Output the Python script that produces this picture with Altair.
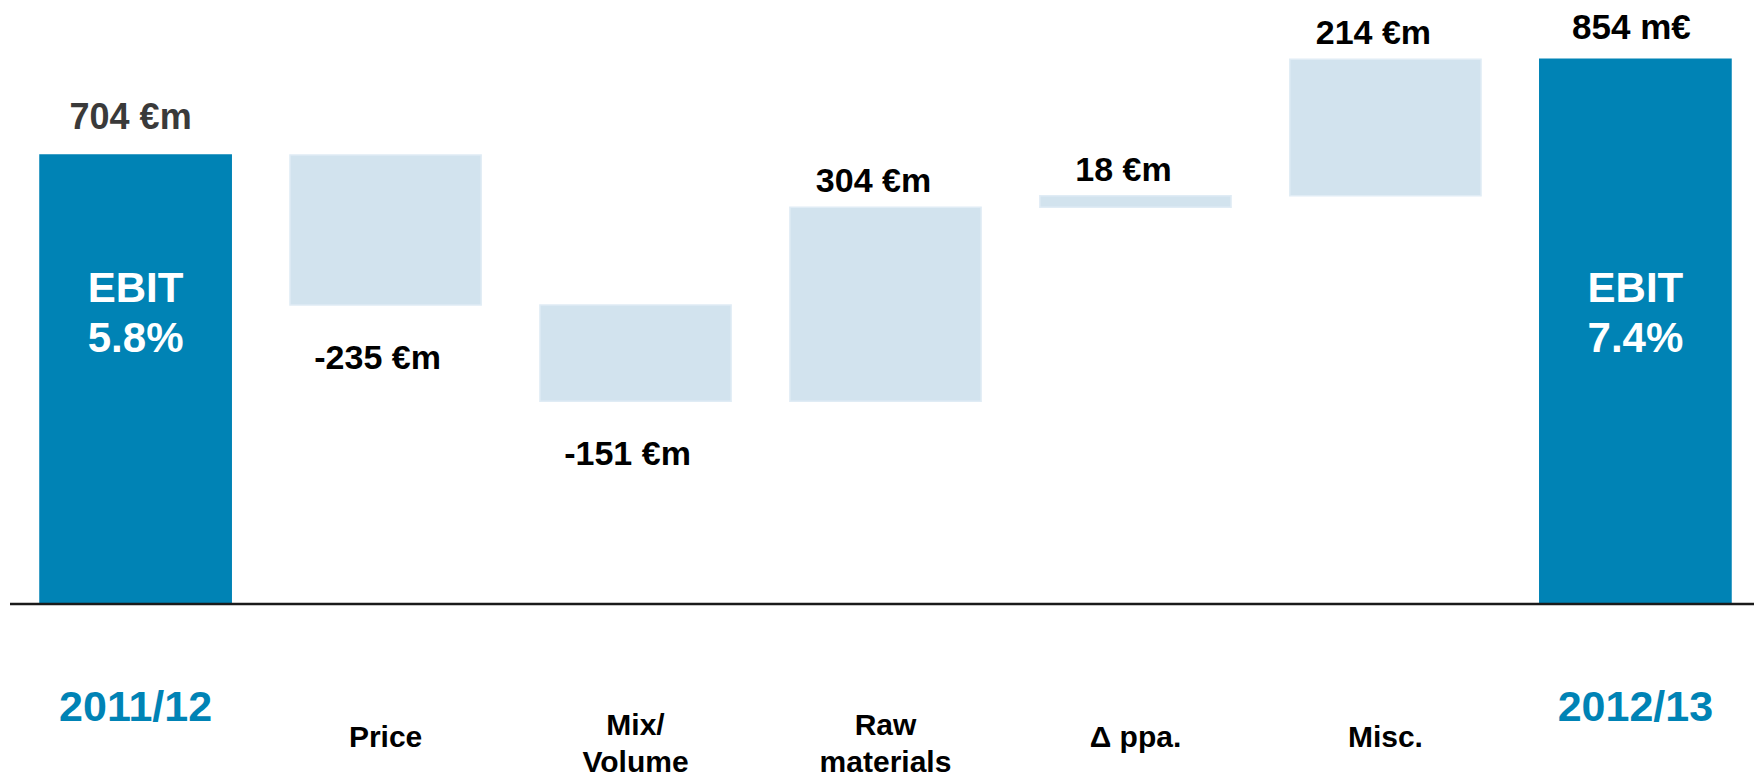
import altair as alt
import pandas as pd

# ---- data ----
categories = ["2011/12", "Price", "Mix/Volume", "Raw materials", "Δ ppa.", "Misc.", "2012/13"]
cat_labels = ["2011/12", "Price", "Mix/\nVolume", "Raw\nmaterials", "Δ ppa.", "Misc.", "2012/13"]
kinds = ["total", "delta", "delta", "delta", "delta", "delta", "total"]
values = [704, -235, -151, 304, 18, 214, 854]
value_labels = ["704 €m", "-235 €m", "-151 €m", "304 €m", "18 €m", "214 €m", "854 m€"]
ebit_labels = ["EBIT\n5.8%", "", "", "", "", "", "EBIT\n7.4%"]

# ---- build waterfall table ----
rows = []
running = 0
for i, (c, lab, k, v, vl, el) in enumerate(zip(categories, cat_labels, kinds, values, value_labels, ebit_labels)):
    if k == "total":
        start, end = 0, v
        running = v
    else:
        start, end = running, running + v
        running = end
    rows.append(dict(cat=c, catlabel=lab, kind=k, value=v, start=start, end=end,
                     vlabel=vl, ebit=el, anchor=values[0], idx=i,
                     multiline=("\n" in lab)))
df = pd.DataFrame(rows)

FONT = "Liberation Sans, Arial, Helvetica, sans-serif"
BLUE = "#0083b5"
LIGHT = "#d2e3ee"

x = alt.X("cat:N", sort=categories, axis=None,
          scale=alt.Scale(paddingInner=0.235, paddingOuter=0.106, align=0.566))
yscale = alt.Scale(domain=[0, 918.8], nice=False, zero=False)

base = alt.Chart(df)

bars = base.mark_bar(strokeWidth=1.5).encode(
    x=x,
    y=alt.Y("start:Q", scale=yscale, axis=None),
    y2="end:Q",
    color=alt.Color("kind:N", scale=alt.Scale(domain=["total", "delta"], range=[BLUE, LIGHT]), legend=None),
    stroke=alt.Stroke("kind:N", scale=alt.Scale(domain=["total", "delta"], range=[BLUE, "#e0ecf5"]), legend=None),
)

baseline = alt.Chart(alt.Data(values=[{"z": 0}])).mark_rule(color="#1a1a1a", strokeWidth=2.5).encode(
    y=alt.Y("z:Q", scale=yscale, axis=None)
)

first_total = base.transform_filter("datum.kind == 'total' && datum.idx == 0").mark_text(
    font=FONT, fontWeight="bold", fontSize=36, baseline="alphabetic", dy=-26, dx=-5, color="#3a3a3a"
).encode(x=x, y=alt.Y("end:Q", scale=yscale, axis=None), text="vlabel:N")

last_total = base.transform_filter("datum.kind == 'total' && datum.idx > 0").mark_text(
    font=FONT, fontWeight="bold", fontSize=35, baseline="alphabetic", dy=-20, dx=-4, color="#000000"
).encode(x=x, y=alt.Y("end:Q", scale=yscale, axis=None), text="vlabel:N")

pos_vals = base.transform_filter("datum.kind == 'delta' && datum.value > 0").mark_text(
    font=FONT, fontWeight="bold", fontSize=34, baseline="alphabetic", dy=-15, dx=-12, color="#000000"
).encode(x=x, y=alt.Y("end:Q", scale=yscale, axis=None), text="vlabel:N")

neg_vals = base.transform_filter("datum.kind == 'delta' && datum.value < 0").mark_text(
    font=FONT, fontWeight="bold", fontSize=34, baseline="alphabetic", dy=64, dx=-8, color="#000000"
).encode(x=x, y=alt.Y("end:Q", scale=yscale, axis=None), text="vlabel:N")

ebit = base.transform_filter("datum.kind == 'total'").mark_text(
    font=FONT, fontWeight="bold", fontSize=42, baseline="alphabetic", dy=147, lineHeight=50,
    lineBreak="\n", color="#ffffff"
).encode(x=x, y=alt.Y("anchor:Q", scale=yscale, axis=None), text="ebit:N")

years = base.transform_filter("datum.kind == 'total'").mark_text(
    font=FONT, fontWeight="bold", fontSize=43, baseline="middle", dy=104, color=BLUE
).encode(x=x, y=alt.Y("zero:Q", scale=yscale, axis=None), text="catlabel:N").transform_calculate(zero="0")

cats_single = base.transform_filter("datum.kind == 'delta' && !datum.multiline").mark_text(
    font=FONT, fontWeight="bold", fontSize=30, baseline="middle", dy=134, color="#000000"
).encode(x=x, y=alt.Y("zero:Q", scale=yscale, axis=None), text="catlabel:N").transform_calculate(zero="0")

cats_multi = base.transform_filter("datum.kind == 'delta' && datum.multiline").mark_text(
    font=FONT, fontWeight="bold", fontSize=30, baseline="middle", dy=122, lineHeight=37,
    lineBreak="\n", color="#000000"
).encode(x=x, y=alt.Y("zero:Q", scale=yscale, axis=None), text="catlabel:N").transform_calculate(zero="0")

chart = alt.layer(bars, baseline, first_total, last_total, pos_vals, neg_vals, ebit, years,
                  cats_single, cats_multi).properties(
    width=1744, height=586,
    autosize=alt.AutoSizeParams(type="none"),
    padding={"left": 2, "top": 10, "right": 0, "bottom": 175},
    background="#ffffff",
).configure_view(stroke=None)

chart.save("out.html", embed_options={"renderer": "svg", "actions": False})
